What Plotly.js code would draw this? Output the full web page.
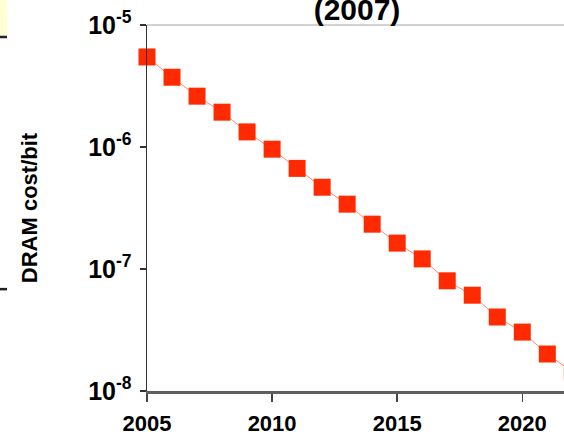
<!DOCTYPE html>
<html>
<head>
<meta charset="utf-8">
<script src="https://cdn.plot.ly/plotly-3.0.1.min.js"></script>
<style>
html, body { margin: 0; padding: 0; overflow: hidden; background: #fff; width: 564px; height: 434px; }
#chart { width: 620px; height: 434px; }
</style>
</head>
<body>
<div id="chart"></div>
<script>
// ---- data ----
const years = [2005, 2006, 2007, 2008, 2009, 2010, 2011, 2012, 2013, 2014, 2015, 2016, 2017, 2018, 2019, 2020, 2021, 2022];
const costPerBit = [5.47e-6, 3.73e-6, 2.61e-6, 1.93e-6, 1.33e-6, 9.6e-7, 6.68e-7, 4.68e-7, 3.40e-7, 2.33e-7, 1.63e-7, 1.21e-7, 8.0e-8, 6.1e-8, 4.04e-8, 3.04e-8, 2.01e-8, 1.43e-8];
const xTickVals = [2005, 2010, 2015, 2020];
const xTickText = ["2005", "2010", "2015", "2020"];
const yTickVals = [1e-8, 1e-7, 1e-6, 1e-5];
const yTickText = ["10<sup>-8</sup>", "10<sup>-7</sup>", "10<sup>-6</sup>", "10<sup>-5</sup>"];
const titleText = "(2007)";
const yTitleText = "DRAM cost/bit";

// ---- layout geometry ----
const W = 620, H = 434;          // drawing is wider than the 564px window; the right part is cropped like the reference
const L = 147, T = 24.5, B = 43, R = 0;
const plotW = W - L - R, plotH = H - T - B;
const pxPerYear = 25.02;
const xEnd = 2005 + plotW / pxPerYear;
const px = v => (v - L) / plotW;      // pixel x -> paper x
const py = v => (H - B - v) / plotH;  // pixel y -> paper y

const FONT = "Liberation Sans, Arial, Helvetica, sans-serif";

const trace = {
  x: years,
  y: costPerBit,
  type: "scatter",
  mode: "lines+markers",
  cliponaxis: false,
  line: { color: "#ff8a70", width: 1 },
  marker: { symbol: "square", size: 17, color: "#ff2a00", line: { width: 0 } },
  hoverinfo: "x+y"
};

const layout = {
  width: W, height: H,
  margin: { l: L, r: R, t: T, b: B, pad: 0 },
  paper_bgcolor: "#ffffff",
  plot_bgcolor: "#ffffff",
  showlegend: false,
  title: {
    text: titleText,
    font: { family: FONT, size: 30, color: "#000", weight: "bold" },
    xref: "container", x: 357 / W, xanchor: "center",
    yref: "container", y: 1 - 9 / H, yanchor: "middle"
  },
  xaxis: {
    range: [2005, xEnd],
    tickvals: xTickVals, ticktext: xTickText,
    ticks: "outside", ticklen: 8, tickwidth: 1.5, tickcolor: "#444",
    showline: true, linecolor: "#606060", linewidth: 2.5,
    showgrid: false, zeroline: false,
    ticklabelstandoff: 3,
    tickfont: { family: FONT, size: 22, color: "#000", weight: "bold" }
  },
  yaxis: {
    type: "log",
    range: [-8, -5],
    tickvals: yTickVals, ticktext: yTickText,
    ticks: "outside", ticklen: 6, tickwidth: 1.2, tickcolor: "#333",
    showline: true, linecolor: "#333", linewidth: 1.5,
    showgrid: false, zeroline: false,
    ticklabelstandoff: 3,
    tickfont: { family: FONT, size: 25, color: "#000", weight: "bold" },
    title: {
      text: yTitleText,
      standoff: 44,
      font: { family: FONT, size: 22, color: "#000", weight: "bold" }
    }
  },
  shapes: [
    // top frame line
    { type: "line", xref: "paper", yref: "paper", x0: 0, x1: 1, y0: 1, y1: 1,
      line: { color: "#c4c4c4", width: 1.5 } },
    // slide artifacts at the left edge
    { type: "rect", xref: "paper", yref: "paper", x0: px(0), x1: px(7), y0: py(35), y1: py(0),
      fillcolor: "#ffffd2", line: { width: 0 } },
    { type: "line", xref: "paper", yref: "paper", x0: px(0), x1: px(7), y0: py(36.5), y1: py(36.5),
      line: { color: "#222", width: 2.5 } },
    { type: "line", xref: "paper", yref: "paper", x0: px(0), x1: px(7), y0: py(289), y1: py(289),
      line: { color: "#222", width: 2.5 } }
  ]
};

Plotly.newPlot("chart", [trace], layout, { displayModeBar: false, staticPlot: true });
</script>
</body>
</html>
